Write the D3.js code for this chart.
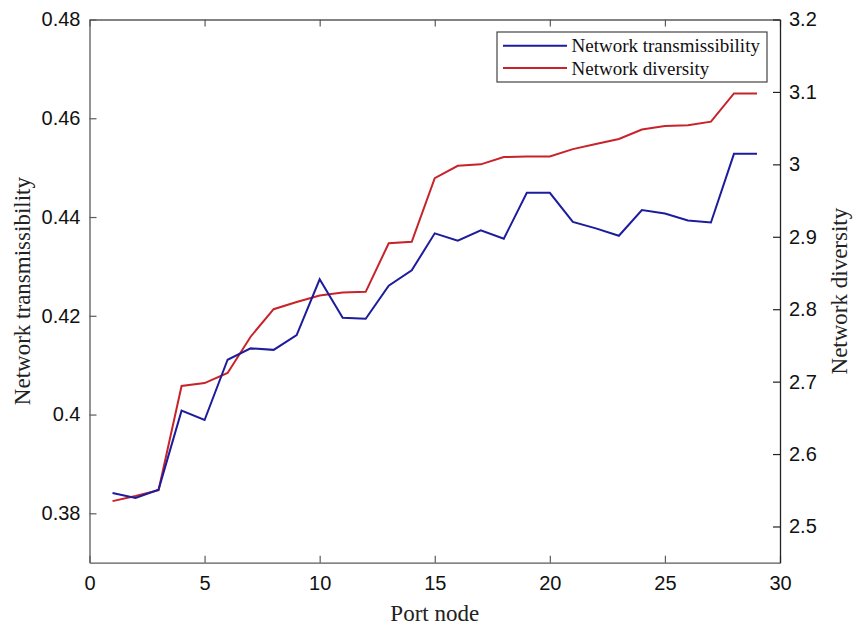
<!DOCTYPE html>
<html>
<head>
<meta charset="utf-8">
<script src="https://cdn.jsdelivr.net/npm/d3@7"></script>
<style>
  body { margin: 0; background: #fff; }
  .tick text { font-family: "Liberation Sans", Arial, sans-serif; font-size: 20px; fill: #111; }
  .axis-title { font-family: "Liberation Serif", "Times New Roman", serif; font-size: 23px; fill: #222; }
  .legend text { font-family: "Liberation Serif", "Times New Roman", serif; font-size: 19px; fill: #111; }
</style>
</head>
<body>
<div class="chart"></div>
<script>
// port node index
const portNodes = [1, 2, 3, 4, 5, 6, 7, 8, 9, 10, 11, 12, 13, 14, 15, 16, 17, 18, 19, 20, 21, 22, 23, 24, 25, 26, 27, 28, 29];

// left axis series
const transmissibility = [0.3841, 0.3831, 0.3848, 0.4008, 0.3989, 0.4111, 0.4134, 0.4131, 0.4161, 0.4274,
  0.4196, 0.4194, 0.4261, 0.4292, 0.4367, 0.4352, 0.4373, 0.4356, 0.4449, 0.4449,
  0.4390, 0.4377, 0.4362, 0.4414, 0.4407, 0.4393, 0.4389, 0.4528, 0.4528];

// right axis series
const diversity = [2.535, 2.542, 2.550, 2.694, 2.698, 2.712, 2.762, 2.800, 2.810, 2.819,
  2.823, 2.824, 2.891, 2.893, 2.981, 2.998, 3.000, 3.010, 3.011, 3.011,
  3.021, 3.028, 3.035, 3.048, 3.053, 3.054, 3.059, 3.098, 3.098];

const xTicks = [0, 5, 10, 15, 20, 25, 30];
const leftTicks = [0.38, 0.40, 0.42, 0.44, 0.46, 0.48];
const rightTicks = [2.5, 2.6, 2.7, 2.8, 2.9, 3.0, 3.1, 3.2];

const seriesNames = ['Network transmissibility', 'Network diversity'];
const seriesColors = ['#1c1c9c', '#c8232b'];

(function(){
    const svg_width = 854;
    const svg_height = 626;
    const margin = { top: 19.5, right: 74, bottom: 63.3, left: 89.5 };
    const w = svg_width - margin.left - margin.right;
    const h = svg_height - margin.top - margin.bottom;
    const tickLen = 7;

    const svg = d3.select('.chart').append('svg')
        .attr('width', svg_width).attr('height', svg_height);
    const g = svg.append('g').attr('transform', `translate(${margin.left},${margin.top})`);

    const xScale = d3.scaleLinear().domain([0, 30]).range([0, w]);
    const yLeft = d3.scaleLinear().domain([0.37, 0.48]).range([h, 0]);
    const yRight = d3.scaleLinear().domain([2.45, 3.2]).range([h, 0]);

    // lines
    const lineLeft = d3.line().x((d, i) => xScale(portNodes[i])).y(d => yLeft(d));
    const lineRight = d3.line().x((d, i) => xScale(portNodes[i])).y(d => yRight(d));

    g.append('path').datum(diversity)
        .attr('d', lineRight)
        .style('fill', 'none').style('stroke', seriesColors[1]).style('stroke-width', 2);
    g.append('path').datum(transmissibility)
        .attr('d', lineLeft)
        .style('fill', 'none').style('stroke', seriesColors[0]).style('stroke-width', 2);

    // axes (ticks point inward like matlab)
    const styleAxis = (sel, color) => {
        sel.select('.domain').attr('stroke', color).attr('stroke-width', 1.3);
        sel.selectAll('.tick line').attr('stroke', color).attr('stroke-width', 1.2);
    };

    const xAxis = g.append('g').attr('transform', `translate(0,${h})`)
        .call(d3.axisBottom(xScale).tickValues(xTicks).tickSize(-tickLen).tickSizeOuter(0).tickPadding(13));
    styleAxis(xAxis, '#5a5a5a');

    const xTop = g.append('g')
        .call(d3.axisTop(xScale).tickValues(xTicks).tickSize(-tickLen).tickSizeOuter(0).tickFormat(''));
    styleAxis(xTop, '#5a5a5a');

    const yAxisL = g.append('g')
        .call(d3.axisLeft(yLeft).tickValues(leftTicks).tickSize(-tickLen).tickSizeOuter(0).tickPadding(9)
            .tickFormat(d => +d.toFixed(2)));
    styleAxis(yAxisL, '#5a5a5a');

    const yAxisR = g.append('g').attr('transform', `translate(${w},0)`)
        .call(d3.axisRight(yRight).tickValues(rightTicks).tickSize(-tickLen).tickSizeOuter(0).tickPadding(9)
            .tickFormat(d => +d.toFixed(1)));
    styleAxis(yAxisR, '#222');

    // axis titles
    g.append('text').attr('class', 'axis-title')
        .attr('x', w / 2).attr('y', h + 58)
        .attr('text-anchor', 'middle')
        .text('Port node');

    g.append('text').attr('class', 'axis-title')
        .attr('transform', `translate(${22 - margin.left},${h / 2}) rotate(-90)`)
        .attr('text-anchor', 'middle').attr('dominant-baseline', 'central')
        .text('Network transmissibility');

    g.append('text').attr('class', 'axis-title')
        .attr('transform', `translate(${839 - margin.left},${h / 2}) rotate(-90)`)
        .attr('text-anchor', 'middle').attr('dominant-baseline', 'central')
        .text('Network diversity');

    // legend
    const legend = svg.append('g').attr('class', 'legend')
        .attr('transform', 'translate(497,32)');
    legend.append('rect')
        .attr('width', 270).attr('height', 50)
        .style('fill', '#fff').style('stroke', '#444').style('stroke-width', 1.2);
    const item = legend.selectAll('.item').data(seriesNames).enter()
        .append('g').attr('class', 'item')
        .attr('transform', (d, i) => `translate(0,${13.7 + i * 22.3})`);
    item.append('line')
        .attr('x1', 6).attr('x2', 70)
        .style('stroke', (d, i) => seriesColors[i]).style('stroke-width', 2);
    item.append('text')
        .attr('x', 74.5).attr('dominant-baseline', 'central')
        .text(d => d);
})();
</script>
</body>
</html>
